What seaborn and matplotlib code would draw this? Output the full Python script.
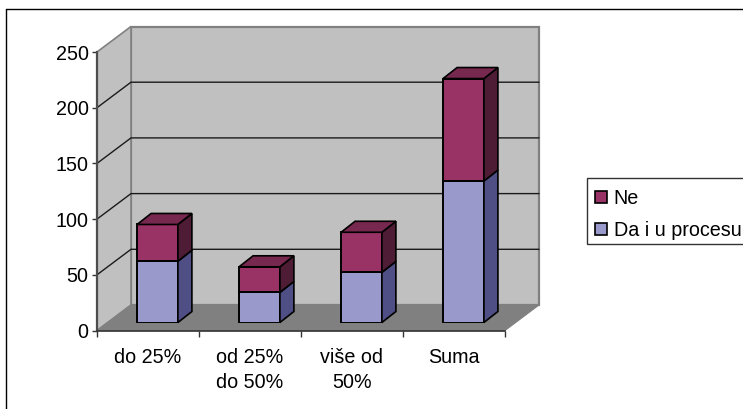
import matplotlib

matplotlib.use("Agg")

import matplotlib.pyplot as plt
import numpy as np
import seaborn as sns
from matplotlib.lines import Line2D
from matplotlib.patches import Patch, Polygon, Rectangle

categories = ["do 25%", "od 25%\ndo 50%", "više od\n50%", "Suma"]
da_values = [55, 27, 45, 127]
ne_values = [33, 23, 36, 92]
y_ticks = [0, 50, 100, 150, 200, 250]

W, H = 743, 409
PX_X = 102.0  # pixels per category
PX_Y = 278.5 / 250  # pixels per value unit
FONT_SIZE = 14.2

WALL = "#C0C0C0"
FLOOR = "#808080"
DA_FRONT, DA_SIDE = "#9999CC", "#4F4F86"
NE_FRONT, NE_SIDE, NE_TOP = "#993366", "#4F1C35", "#77284F"

sns.set_theme(style="white")
plt.rcParams["font.family"] = ["Liberation Sans", "DejaVu Sans"]

fig = plt.figure(figsize=(W / 100, H / 100), dpi=100)


def axes_px(x0, y_top, x1, y_bottom, **kwargs):
    return fig.add_axes(
        [x0 / W, 1 - y_bottom / H, (x1 - x0) / W, (y_bottom - y_top) / H], **kwargs
    )


# main axes is the front plane of the box, everything else hangs off its scales
ax = axes_px(97, 52, 505, 330.5)
ax.set_xlim(-0.5, 3.5)
ax.set_ylim(0, 250)
ax.patch.set_alpha(0)

dx = 34 / PX_X
dy = 25.5 / PX_Y

ax.add_patch(
    Polygon(
        [(-0.5 + dx, dy), (3.5 + dx, dy), (3.5 + dx, 250 + dy), (-0.5 + dx, 250 + dy)],
        facecolor=WALL, edgecolor=FLOOR, lw=1.6, clip_on=False, zorder=1,
    )
)
ax.add_patch(
    Polygon(
        [(-0.5, 0), (-0.5 + dx, dy), (-0.5 + dx, 250 + dy), (-0.5, 250)],
        facecolor=WALL, edgecolor=FLOOR, lw=1.2, clip_on=False, zorder=1,
    )
)
ax.add_patch(
    Polygon(
        [(-0.5, 0), (3.5, 0), (3.5 + dx, dy), (-0.5 + dx, dy)],
        facecolor=FLOOR, edgecolor=FLOOR, lw=0.8, clip_on=False, zorder=2,
    )
)
for tick in y_ticks[1:-1]:
    ax.plot(
        [-0.5, -0.5 + dx, 3.5 + dx], [tick, tick + dy, tick + dy],
        color="#1a1a1a", lw=1.0, clip_on=False, zorder=2,
    )

ax.set_yticks(y_ticks)
ax.set_xticks(np.arange(4), categories)
ax.set_xticks(np.arange(-0.5, 4), minor=True)
ax.tick_params(axis="y", left=True, length=3.5, width=1, color="#333333", labelsize=FONT_SIZE, pad=2.5, labelcolor="black")
ax.tick_params(axis="x", which="major", bottom=False, labelsize=FONT_SIZE, pad=6.5, labelcolor="black")
ax.tick_params(axis="x", which="minor", bottom=True, length=4, width=1, color="#333333")
for label in ax.get_xticklabels():
    label.set_linespacing(1.42)
for side in ["top", "right"]:
    ax.spines[side].set_visible(False)
ax.spines["left"].set_color("#4d4d4d")
ax.spines["left"].set_linewidth(1.6)
ax.spines["bottom"].set_color("#333333")
ax.spines["bottom"].set_linewidth(1.2)

# bars stand in the middle of the floor, so their axes is shifted a bit
bar_ax = axes_px(106.5, 44, 514.5, 322.5)
bar_ax.patch.set_alpha(0)

sns.barplot(
    x=categories, y=da_values, color=DA_FRONT, saturation=1, width=0.4,
    edgecolor="black", linewidth=1.4, errorbar=None, ax=bar_ax,
)
sns.barplot(
    x=categories, y=ne_values, bottom=da_values, color=NE_FRONT, saturation=1, width=0.4,
    edgecolor="black", linewidth=1.4, errorbar=None, ax=bar_ax,
)
bar_ax.set_xlim(-0.5, 3.5)
bar_ax.set_ylim(0, 250)
bar_ax.axis("off")

bar_dx = 14 / PX_X
bar_dy = 11 / PX_Y
n = len(categories)
for i, patch in enumerate(list(bar_ax.patches)):
    x1 = patch.get_x() + patch.get_width()
    x0 = patch.get_x()
    y0 = patch.get_y()
    y1 = y0 + patch.get_height()
    side = DA_SIDE if i < n else NE_SIDE
    bar_ax.add_patch(
        Polygon(
            [(x1, y0), (x1 + bar_dx, y0 + bar_dy), (x1 + bar_dx, y1 + bar_dy), (x1, y1)],
            facecolor=side, edgecolor="black", lw=1.2, clip_on=False,
        )
    )
    if i >= n:
        bar_ax.add_patch(
            Polygon(
                [(x0, y1), (x1, y1), (x1 + bar_dx, y1 + bar_dy), (x0 + bar_dx, y1 + bar_dy)],
                facecolor=NE_TOP, edgecolor="black", lw=1.2, clip_on=False,
            )
        )

# legend box runs off the right edge of the picture, text sits low in it
fig.add_artist(
    Rectangle(
        (587 / W, 1 - 244 / H), 170 / W, 66 / H, transform=fig.transFigure,
        facecolor="white", edgecolor="#333333", lw=1.0,
    )
)
handles = [
    Patch(facecolor=NE_FRONT, edgecolor="black", lw=1.2, label="Ne"),
    Patch(facecolor=DA_FRONT, edgecolor="black", lw=1.2, label="Da i u procesu"),
]
fig.legend(
    handles=handles, loc="upper left", bbox_to_anchor=(587 / W, 1 - 181 / H),
    bbox_transform=fig.transFigure, fontsize=FONT_SIZE, frameon=False,
    handlelength=0.6, handleheight=0.6, handletextpad=0.36,
    labelspacing=0.66, borderpad=0.4, borderaxespad=0, labelcolor="black",
)

# frame of the pasted chart, the right and bottom sides are cut off
fig.add_artist(Line2D([6.5 / W, 6.5 / W], [0, 1 - 9 / H], color="black", lw=1.0))
fig.add_artist(Line2D([6.5 / W, 1], [1 - 9 / H, 1 - 9 / H], color="black", lw=1.0))

fig.savefig("out.png", dpi=100)
